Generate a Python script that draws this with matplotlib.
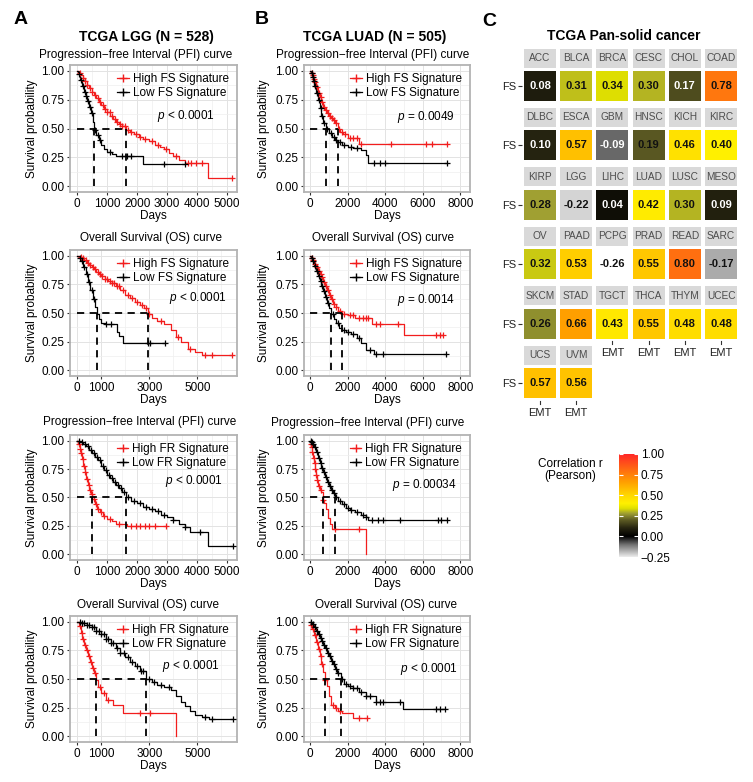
import numpy as np
import matplotlib
matplotlib.use('Agg')
import matplotlib.pyplot as plt
from matplotlib.colors import LinearSegmentedColormap, Normalize
from matplotlib.lines import Line2D
from matplotlib.patches import Rectangle

plt.rcParams['font.family'] = ['Liberation Sans', 'DejaVu Sans']
plt.rcParams['mathtext.fontset'] = 'custom'
plt.rcParams['mathtext.it'] = 'Liberation Sans:italic'
plt.rcParams['mathtext.rm'] = 'Liberation Sans'

# ---------- KM curves (step points + censor times) ----------
# LGG PFI, FS signature
lgg_pfi_fs_hi_t = [0, 60, 120, 180, 250, 320, 400, 480, 560, 640, 720, 800, 900, 1000, 1100, 1200, 1300, 1400,
                   1500, 1620, 1750, 1900, 2050, 2200, 2400, 2600, 2750, 2900, 3050, 3200, 3400, 3600, 4350, 5170]
lgg_pfi_fs_hi_s = [1.0, 0.98, 0.96, 0.94, 0.91, 0.88, 0.85, 0.82, 0.79, 0.76, 0.73, 0.70, 0.67, 0.64, 0.61, 0.58,
                   0.56, 0.54, 0.52, 0.49, 0.47, 0.45, 0.43, 0.41, 0.39, 0.36, 0.34, 0.32, 0.29, 0.26, 0.23, 0.20,
                   0.07, 0.07]
lgg_pfi_fs_hi_c = [100, 180, 260, 330, 420, 500, 590, 680, 760, 850, 930, 1010, 1090, 1170, 1250, 1330, 1420, 1500,
                   1580, 1680, 1800, 1950, 2100, 2250, 2500, 2700, 2950, 3300, 3700, 3800, 3950, 4150, 5170]
lgg_pfi_fs_lo_t = [0, 40, 100, 160, 220, 280, 340, 400, 460, 520, 570, 640, 720, 800, 900, 1000, 1150, 1300, 2180, 3600]
lgg_pfi_fs_lo_s = [1.0, 0.97, 0.92, 0.87, 0.82, 0.78, 0.74, 0.69, 0.63, 0.56, 0.49, 0.44, 0.40, 0.36, 0.32, 0.30,
                   0.28, 0.26, 0.19, 0.19]
lgg_pfi_fs_lo_c = [60, 130, 200, 260, 310, 370, 430, 490, 600, 680, 760, 1100, 1500, 1650, 1800, 2900, 3600]

# LGG OS, FS signature
lgg_os_fs_hi_t = [0, 100, 200, 300, 400, 500, 600, 700, 800, 900, 1000, 1150, 1300, 1450, 1600, 1800, 2000, 2200,
                  2400, 2600, 2800, 2930, 3100, 3300, 3600, 3900, 4100, 4300, 4600, 4900, 5200, 6450]
lgg_os_fs_hi_s = [1.0, 0.99, 0.98, 0.96, 0.94, 0.92, 0.90, 0.88, 0.86, 0.84, 0.82, 0.80, 0.78, 0.76, 0.74, 0.70,
                  0.66, 0.63, 0.60, 0.57, 0.54, 0.49, 0.46, 0.43, 0.40, 0.35, 0.29, 0.25, 0.19, 0.16, 0.13, 0.13]
lgg_os_fs_hi_c = [150, 250, 350, 450, 550, 650, 750, 850, 950, 1050, 1150, 1250, 1350, 1450, 1550, 1650, 1750,
                  1900, 2100, 2300, 2500, 2700, 2850, 3000, 3500, 4200, 4700, 5300, 5600, 6450]
lgg_os_fs_lo_t = [0, 60, 150, 250, 350, 450, 550, 650, 750, 826, 900, 1000, 1160, 1650, 1750, 1900, 3640]
lgg_os_fs_lo_s = [1.0, 0.98, 0.95, 0.90, 0.84, 0.77, 0.70, 0.62, 0.55, 0.49, 0.45, 0.41, 0.40, 0.33, 0.30, 0.24, 0.24]
lgg_os_fs_lo_c = [100, 200, 300, 400, 500, 600, 700, 1200, 1400, 2950, 3050, 3640]

# LGG PFI, FR signature
lgg_pfi_fr_hi_t = [0, 40, 80, 120, 160, 200, 250, 300, 350, 400, 450, 500, 580, 650, 750, 850, 1000, 1150, 1300,
                   1650, 2950]
lgg_pfi_fr_hi_s = [1.0, 0.97, 0.93, 0.89, 0.84, 0.78, 0.72, 0.66, 0.61, 0.57, 0.53, 0.49, 0.44, 0.40, 0.37, 0.34,
                   0.31, 0.29, 0.27, 0.25, 0.25]
lgg_pfi_fr_hi_c = [60, 100, 140, 180, 220, 270, 320, 380, 430, 480, 550, 620, 700, 800, 900, 1100, 1400, 1800,
                   1950, 2100, 2250, 2400, 2600, 2950]
lgg_pfi_fr_lo_t = [0, 100, 200, 300, 400, 500, 600, 700, 800, 900, 1000, 1100, 1200, 1300, 1400, 1500, 1620, 1800,
                   2000, 2200, 2400, 2600, 2800, 3000, 3200, 3400, 3600, 3750, 4360, 5200]
lgg_pfi_fr_lo_s = [1.0, 0.99, 0.97, 0.95, 0.92, 0.89, 0.86, 0.83, 0.78, 0.74, 0.70, 0.67, 0.64, 0.61, 0.58, 0.55,
                   0.50, 0.47, 0.45, 0.42, 0.40, 0.38, 0.35, 0.33, 0.30, 0.27, 0.24, 0.20, 0.07, 0.07]
lgg_pfi_fr_lo_c = [50, 150, 250, 350, 450, 550, 650, 750, 850, 950, 1050, 1150, 1250, 1350, 1450, 1550, 1700, 1900,
                   2100, 2300, 2500, 2700, 2900, 3200, 3600, 4100, 5200]

# LGG OS, FR signature
lgg_os_fr_hi_t = [0, 80, 150, 220, 300, 380, 450, 520, 600, 680, 790, 880, 1000, 1200, 1500, 1900, 4100]
lgg_os_fr_hi_s = [1.0, 0.96, 0.90, 0.85, 0.80, 0.75, 0.70, 0.65, 0.60, 0.55, 0.49, 0.43, 0.38, 0.32, 0.27, 0.20, 0.0]
lgg_os_fr_hi_c = [120, 200, 260, 340, 420, 480, 560, 640, 720, 950, 1100, 1300, 2600, 3050]
lgg_os_fr_lo_t = [0, 200, 400, 600, 800, 1000, 1200, 1400, 1600, 1800, 2000, 2200, 2400, 2600, 2880, 3100, 3300,
                  3600, 3900, 4100, 4300, 4500, 4700, 4900, 5200, 5500, 6500]
lgg_os_fr_lo_s = [1.0, 0.99, 0.97, 0.95, 0.92, 0.89, 0.85, 0.81, 0.77, 0.73, 0.69, 0.65, 0.61, 0.57, 0.50, 0.47,
                  0.45, 0.43, 0.40, 0.35, 0.30, 0.26, 0.22, 0.19, 0.17, 0.15, 0.15]
lgg_os_fr_lo_c = [100, 200, 300, 400, 500, 600, 700, 800, 900, 1000, 1100, 1200, 1300, 1400, 1500, 1650, 1800,
                  1950, 2100, 2300, 2500, 2650, 2750, 3000, 3200, 3500, 3800, 5300, 5600, 6500]

# LUAD PFI, FS signature
luad_pfi_fs_hi_t = [0, 50, 100, 150, 200, 300, 400, 500, 600, 700, 800, 900, 1000, 1100, 1200, 1300, 1480, 1600,
                    1750, 2000, 2600, 7300]
luad_pfi_fs_hi_s = [1.0, 0.98, 0.96, 0.93, 0.90, 0.86, 0.81, 0.77, 0.73, 0.69, 0.66, 0.63, 0.61, 0.59, 0.57, 0.55,
                    0.50, 0.47, 0.45, 0.42, 0.37, 0.37]
luad_pfi_fs_hi_c = [80, 130, 180, 250, 350, 450, 550, 650, 750, 850, 950, 1050, 1150, 1250, 1400, 1550, 1700, 1850,
                    2100, 2300, 2500, 2700, 4300, 6200, 6500, 7300]
luad_pfi_fs_lo_t = [0, 50, 100, 150, 200, 300, 400, 500, 600, 700, 850, 1000, 1150, 1300, 1500, 1700, 2000, 2300,
                    2700, 3000, 3100, 7300]
luad_pfi_fs_lo_s = [1.0, 0.98, 0.95, 0.91, 0.87, 0.81, 0.75, 0.68, 0.61, 0.55, 0.50, 0.46, 0.43, 0.40, 0.38, 0.36,
                    0.34, 0.33, 0.31, 0.27, 0.20, 0.20]
luad_pfi_fs_lo_c = [80, 130, 180, 250, 350, 450, 550, 650, 750, 900, 1100, 1250, 1400, 1600, 1800, 2200, 2500,
                    3400, 3700, 4000, 7300]

# LUAD OS, FS signature
luad_os_fs_hi_t = [0, 50, 100, 200, 300, 400, 500, 600, 700, 800, 900, 1000, 1100, 1200, 1350, 1500, 1690, 2000,
                   2400, 3300, 5000, 7100]
luad_os_fs_hi_s = [1.0, 0.98, 0.96, 0.93, 0.90, 0.87, 0.84, 0.81, 0.77, 0.74, 0.70, 0.66, 0.62, 0.58, 0.55, 0.52,
                   0.49, 0.48, 0.46, 0.40, 0.31, 0.31]
luad_os_fs_hi_c = [80, 150, 250, 350, 450, 550, 650, 750, 850, 950, 1050, 1150, 1250, 1400, 1600, 1800, 2100, 2300,
                   2600, 2800, 3000, 3100, 3500, 3700, 4700, 6700, 6900, 7100]
luad_os_fs_lo_t = [0, 50, 100, 200, 300, 400, 500, 600, 700, 800, 900, 1000, 1110, 1250, 1400, 1550, 1700, 1900,
                   2200, 2500, 2700, 3000, 3400, 7250]
luad_os_fs_lo_s = [1.0, 0.98, 0.95, 0.91, 0.87, 0.82, 0.78, 0.74, 0.69, 0.64, 0.59, 0.54, 0.49, 0.45, 0.41, 0.37,
                   0.35, 0.33, 0.32, 0.28, 0.24, 0.18, 0.14, 0.14]
luad_os_fs_lo_c = [80, 150, 250, 350, 450, 550, 650, 750, 850, 950, 1200, 1500, 1800, 2000, 2300, 2600, 3200, 3500,
                   3900, 7250]

# LUAD PFI, FR signature
luad_pfi_fr_hi_t = [0, 30, 60, 100, 150, 200, 250, 300, 350, 400, 500, 600, 670, 750, 850, 950, 1050, 1150, 2950]
luad_pfi_fr_hi_s = [1.0, 0.97, 0.94, 0.90, 0.85, 0.80, 0.75, 0.70, 0.65, 0.60, 0.57, 0.55, 0.48, 0.45, 0.40, 0.32,
                    0.27, 0.22, 0.0]
luad_pfi_fr_hi_c = [40, 80, 120, 180, 230, 280, 330, 380, 450, 550, 700, 1300, 2600]
luad_pfi_fr_lo_t = [0, 50, 100, 200, 300, 400, 500, 600, 700, 800, 900, 1000, 1100, 1200, 1330, 1500, 1700, 1900,
                    2100, 2400, 2700, 3000, 3100, 7300]
luad_pfi_fr_lo_s = [1.0, 0.99, 0.97, 0.94, 0.90, 0.85, 0.80, 0.76, 0.72, 0.68, 0.64, 0.60, 0.57, 0.54, 0.50, 0.47,
                    0.44, 0.41, 0.39, 0.37, 0.35, 0.33, 0.30, 0.30]
luad_pfi_fr_lo_c = [30, 80, 150, 250, 350, 450, 550, 650, 750, 850, 950, 1050, 1150, 1250, 1400, 1600, 1800, 2000,
                    2200, 2500, 2800, 3000, 3300, 3600, 3900, 4800, 6800, 7000, 7300]

# LUAD OS, FR signature
luad_os_fr_hi_t = [0, 50, 100, 200, 300, 400, 500, 600, 700, 790, 900, 1000, 1100, 1300, 1500, 1700, 2300, 3050]
luad_os_fr_hi_s = [1.0, 0.97, 0.94, 0.88, 0.82, 0.76, 0.70, 0.63, 0.56, 0.49, 0.44, 0.35, 0.27, 0.25, 0.22, 0.20,
                   0.16, 0.16]
luad_os_fr_hi_c = [60, 150, 250, 350, 450, 550, 650, 800, 1200, 1400, 1600, 2600, 3050]
luad_os_fr_lo_t = [0, 100, 200, 300, 400, 500, 600, 700, 800, 900, 1000, 1100, 1200, 1300, 1450, 1640, 1800, 2000,
                   2300, 2600, 3000, 3500, 4950, 7200]
luad_os_fr_lo_s = [1.0, 0.98, 0.95, 0.92, 0.89, 0.86, 0.83, 0.80, 0.77, 0.73, 0.70, 0.66, 0.63, 0.59, 0.55, 0.50,
                   0.46, 0.44, 0.42, 0.39, 0.35, 0.30, 0.24, 0.24]
luad_os_fr_lo_c = [50, 150, 250, 350, 450, 550, 650, 750, 850, 950, 1050, 1150, 1250, 1350, 1500, 1700, 1900, 2100,
                   2300, 2500, 2700, 3000, 3200, 3500, 3700, 3900, 4800, 6700, 6900, 7200]

pvals = ['< 0.0001', '< 0.0001', '< 0.0001', '< 0.0001', '= 0.0049', '= 0.0014', '= 0.00034', '< 0.0001']

# ---------- heatmap (panel C) ----------
cancers = ['ACC', 'BLCA', 'BRCA', 'CESC', 'CHOL', 'COAD', 'DLBC', 'ESCA', 'GBM', 'HNSC', 'KICH', 'KIRC',
           'KIRP', 'LGG', 'LIHC', 'LUAD', 'LUSC', 'MESO', 'OV', 'PAAD', 'PCPG', 'PRAD', 'READ', 'SARC',
           'SKCM', 'STAD', 'TGCT', 'THCA', 'THYM', 'UCEC', 'UCS', 'UVM']
fs_emt_r = [0.08, 0.31, 0.34, 0.30, 0.17, 0.78, 0.10, 0.57, -0.09, 0.19, 0.46, 0.40,
            0.28, -0.22, 0.04, 0.42, 0.30, 0.09, 0.32, 0.53, -0.26, 0.55, 0.80, -0.17,
            0.26, 0.66, 0.43, 0.55, 0.48, 0.48, 0.57, 0.56]

# ---------- layout ----------
W, H = 753, 782
fig = plt.figure(figsize=(W / 100, H / 100), dpi=100)


def px_axes(l, t, r, b):
    return fig.add_axes([l / W, 1 - b / H, (r - l) / W, (b - t) / H])


def ftext(x, y, s, **kw):
    fig.text(x / W, 1 - y / H, s, **kw)


RED = '#f21d1d'
col_px = [(70, 237), (304, 470)]
row_px = [(65, 192), (250, 376), (435, 560), (616, 742)]


def km(ax, t, s, c, color):
    t = np.asarray(t)
    s = np.asarray(s)
    ax.step(t, s, where='post', color=color, lw=0.9, zorder=3)
    idx = np.searchsorted(t, c, side='right') - 1
    ax.plot(c, s[idx], ls='none', marker='+', ms=5, mew=0.9, color=color, zorder=4)
    return t[np.argmax(s <= 0.5)]


curves = [
    (lgg_pfi_fs_hi_t, lgg_pfi_fs_hi_s, lgg_pfi_fs_hi_c, lgg_pfi_fs_lo_t, lgg_pfi_fs_lo_s, lgg_pfi_fs_lo_c),
    (lgg_os_fs_hi_t, lgg_os_fs_hi_s, lgg_os_fs_hi_c, lgg_os_fs_lo_t, lgg_os_fs_lo_s, lgg_os_fs_lo_c),
    (lgg_pfi_fr_hi_t, lgg_pfi_fr_hi_s, lgg_pfi_fr_hi_c, lgg_pfi_fr_lo_t, lgg_pfi_fr_lo_s, lgg_pfi_fr_lo_c),
    (lgg_os_fr_hi_t, lgg_os_fr_hi_s, lgg_os_fr_hi_c, lgg_os_fr_lo_t, lgg_os_fr_lo_s, lgg_os_fr_lo_c),
    (luad_pfi_fs_hi_t, luad_pfi_fs_hi_s, luad_pfi_fs_hi_c, luad_pfi_fs_lo_t, luad_pfi_fs_lo_s, luad_pfi_fs_lo_c),
    (luad_os_fs_hi_t, luad_os_fs_hi_s, luad_os_fs_hi_c, luad_os_fs_lo_t, luad_os_fs_lo_s, luad_os_fs_lo_c),
    (luad_pfi_fr_hi_t, luad_pfi_fr_hi_s, luad_pfi_fr_hi_c, luad_pfi_fr_lo_t, luad_pfi_fr_lo_s, luad_pfi_fr_lo_c),
    (luad_os_fr_hi_t, luad_os_fr_hi_s, luad_os_fr_hi_c, luad_os_fr_lo_t, luad_os_fr_lo_s, luad_os_fr_lo_c),
]
subtitles = ['Progression\u2212free Interval (PFI) curve', 'Overall Survival (OS) curve'] * 4
sub_xy = [(136, 55), (151, 238), (140, 422), (148, 605), (373, 55), (383, 238), (368, 423), (386, 605)]
p_xy = [(0.52, 0.60), (0.59, 0.62), (0.57, 0.63), (0.55, 0.60), (0.56, 0.59), (0.56, 0.60), (0.53, 0.60), (0.58, 0.58)]

for k, (th, sh, ch, tl, sl, cl) in enumerate(curves):
    col, row = k // 4, k % 4
    l, r = col_px[col]
    t, b = row_px[row]
    ax = px_axes(l, t, r, b)
    sig = 'FS' if row < 2 else 'FR'
    m_hi = km(ax, th, sh, ch, RED)
    m_lo = km(ax, tl, sl, cl, 'black')
    kw = dict(color='black', lw=1.3, dashes=(4, 3), zorder=5)
    ax.plot([0, max(m_hi, m_lo)], [0.5, 0.5], **kw)
    ax.plot([m_hi, m_hi], [0, 0.5], **kw)
    ax.plot([m_lo, m_lo], [0, 0.5], **kw)

    ax.set_ylim(-0.05, 1.05)
    ax.set_yticks([0, 0.25, 0.5, 0.75, 1.0])
    ax.set_yticklabels(['0.00', '0.25', '0.50', '0.75', '1.00'])
    ax.set_yticks([0.125, 0.375, 0.625, 0.875], minor=True)
    if col == 0 and row % 2 == 0:
        ax.set_xlim(-240, 5330)
        ax.set_xticks([0, 1000, 2000, 3000, 4000, 5000])
        ax.set_xticks([500, 1500, 2500, 3500, 4500], minor=True)
    elif col == 0:
        ax.set_xlim(-300, 6650)
        ax.set_xticks([0, 1000, 3000, 5000])
        ax.set_xticks([500, 2000, 4000, 6000], minor=True)
    else:
        ax.set_xlim(-330, 8520)
        ax.set_xticks([0, 2000, 4000, 6000, 8000])
        ax.set_xticks([1000, 3000, 5000, 7000], minor=True)
    ax.grid(which='major', color='#e3e3e3', lw=0.7)
    ax.grid(which='minor', color='#efefef', lw=0.5)
    ax.set_axisbelow(True)
    for sp in ax.spines.values():
        sp.set_color('#b3b3b3')
        sp.set_linewidth(1.3)
    ax.tick_params(which='major', length=2.5, width=0.8, color='#333333', pad=1.5, labelsize=8.5,
                   labelcolor='black')
    ax.tick_params(which='minor', length=0)
    ax.set_xlabel('Days', fontsize=8.5, labelpad=0.5)

    handles = [Line2D([], [], color=RED, lw=0.9, marker='+', ms=6, mew=1.0),
               Line2D([], [], color='black', lw=0.9, marker='+', ms=6, mew=1.0)]
    ax.legend(handles, ['High %s Signature' % sig, 'Low %s Signature' % sig], loc='upper right',
              bbox_to_anchor=(1.0, 1.0), frameon=False, fontsize=8.5, handlelength=1.0,
              handletextpad=0.3, labelspacing=0.15, borderaxespad=0.3)
    ax.text(p_xy[k][0], p_xy[k][1], r'$p$ ' + pvals[k], transform=ax.transAxes, fontsize=8.5,
            ha='left', va='center')

    sx, sy = sub_xy[k]
    ftext(sx, sy, subtitles[k], ha='center', va='center', fontsize=8.5)
    ftext(32 if col == 0 else 264, (t + b) / 2, 'Survival probability', rotation=90,
          ha='center', va='center', fontsize=8.5)

ftext(146, 37, 'TCGA LGG (N = 528)', ha='center', va='center', fontsize=10, fontweight='bold')
ftext(375, 37, 'TCGA LUAD (N = 505)', ha='center', va='center', fontsize=10, fontweight='bold')
ftext(21, 19, 'A', ha='center', va='center', fontsize=14, fontweight='bold')
ftext(262, 20, 'B', ha='center', va='center', fontsize=14, fontweight='bold')
ftext(489, 21, 'C', ha='center', va='center', fontsize=14, fontweight='bold')

# ---------- panel C ----------
cmap = LinearSegmentedColormap.from_list('corr', [
    (0.0, '#ececec'), (0.12, '#707070'), (0.2, '#000000'), (0.28, '#262410'), (0.36, '#5e5c24'),
    (0.424, '#a0a032'), (0.472, '#e0e000'), (0.52, '#fff000'), (0.6, '#ffd800'), (0.728, '#ffa000'),
    (0.84, '#ff7010'), (1.0, '#ff2828')])
cmap.set_under('white')
norm = Normalize(vmin=-0.25, vmax=1.0)

ftext(624, 36, 'TCGA Pan-solid cancer', ha='center', va='center', fontsize=10, fontweight='bold')
hx = px_axes(521.9, 41.5, 739.1, 427.6)
hx.set_xlim(-0.5, 5.5)
hx.set_ylim(5.75, -0.75)
n = len(cancers)
for i, (name, v) in enumerate(zip(cancers, fs_emt_r)):
    r, c = i // 6, i % 6
    hx.add_patch(Rectangle((c - 0.44, r - 0.631), 0.88, 0.32, facecolor='#d9d9d9', edgecolor='none'))
    hx.text(c, r - 0.471, name, ha='center', va='center', fontsize=7.3, color='#4d4d4d')
    hx.add_patch(Rectangle((c - 0.44, r - 0.2525), 0.88, 0.505, facecolor=cmap(norm(v)), edgecolor='none'))
    dark = -0.12 < v < 0.18
    hx.text(c, r, '%.2f' % v, ha='center', va='center', fontsize=8, fontweight='bold',
            color='white' if dark else '#111111')
    if i + 6 >= n:
        hx.plot([c, c], [r + 0.30, r + 0.35], color='#333333', lw=0.8)
        hx.text(c, r + 0.5, 'EMT', ha='center', va='center', fontsize=8, color='#222222')
hx.set_yticks(range(6))
hx.set_yticklabels(['FS'] * 6)
hx.set_xticks([])
hx.tick_params(axis='y', length=3, width=0.8, color='#333333', pad=1, labelsize=8, labelcolor='#222222')
for sp in hx.spines.values():
    sp.set_visible(False)
hx.patch.set_alpha(0)

# colour bar
cax = px_axes(619, 454, 638, 557)
grad = np.linspace(-0.25, 1.0, 256)
cax.imshow(grad[:, None], extent=[0, 1, -0.25, 1.0], origin='lower', aspect='auto', cmap=cmap, norm=norm)
cax.set_xlim(0, 1)
cax.set_ylim(-0.25, 1.0)
cax.set_xticks([])
cax.set_yticks([-0.25, 0, 0.25, 0.5, 0.75, 1.0])
cax.set_yticklabels(['\u22120.25', '0.00', '0.25', '0.50', '0.75', '1.00'])
cax.yaxis.tick_right()
cax.tick_params(axis='y', direction='in', length=3, width=0.8, color='white', left=True, right=True,
                labelsize=8.5, pad=2)
for sp in cax.spines.values():
    sp.set_visible(False)
ftext(570, 470, 'Correlation r\n(Pearson)', ha='center', va='center', fontsize=8.5, linespacing=1.1)

fig.savefig('out.png', dpi=100)
